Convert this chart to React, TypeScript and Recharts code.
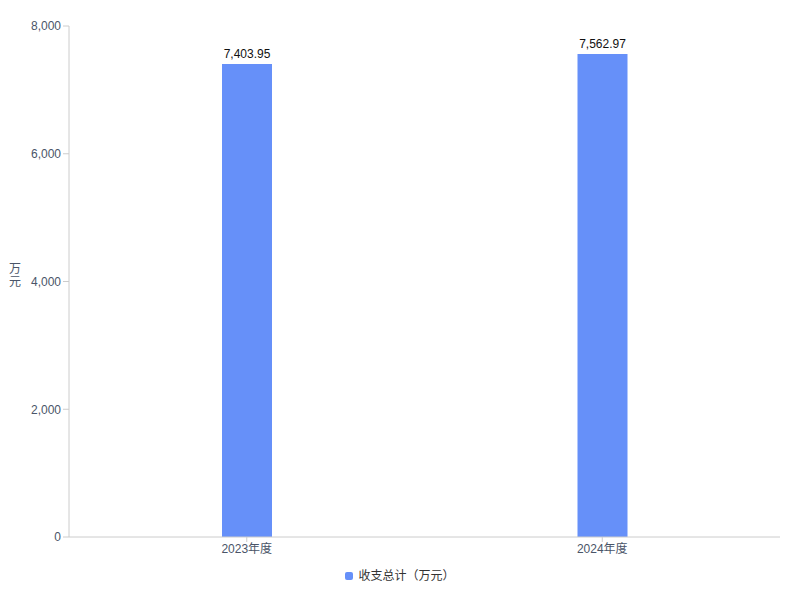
import React from 'react';
import { BarChart, Bar, XAxis, YAxis, LabelList } from 'recharts';

const categories = ['2023年度', '2024年度'];
const totals = [7403.95, 7562.97];
const yTicks = [0, 2000, 4000, 6000, 8000];
const seriesName = '收支总计（万元）';
const unitLabel = '万元';

const data = categories.map((c, i) => ({ name: c, total: totals[i] }));

const FONT = '"Liberation Sans", Arial, "Noto Sans CJK SC", sans-serif';
const BAR_COLOR = '#6690F9';

const fmtTick = (v: number) => v.toLocaleString('en-US');
const fmtLabel = (v: any) =>
  Number(v).toLocaleString('en-US', { minimumFractionDigits: 2, maximumFractionDigits: 2 });

const UnitLabel = (props: any) => {
  const vb = props.viewBox || {};
  const cy = vb.y + vb.height / 2;
  const chars = unitLabel.split('');
  return (
    <text x={15} y={cy} textAnchor="middle" fill="#4a5568" fontSize={12} fontFamily={FONT}>
      {chars.map((ch, i) => (
        <tspan key={i} x={15} dy={i === 0 ? -9 : 13}>{ch}</tspan>
      ))}
    </text>
  );
};

export default function App() {
  return (
    <div style={{ position: 'absolute', left: 0, top: 0, width: 800, height: 600, background: '#fff' }}>
      <BarChart width={800} height={600} data={data} margin={{ top: 26, right: 20, bottom: 33, left: 0 }}>
        <XAxis
          dataKey="name"
          height={30}
          stroke="#cccccc"
          tickLine={{ stroke: '#cccccc' }}
          tick={{ fill: '#4a5568', fontSize: 12, fontFamily: FONT }}
          tickSize={5}
        />
        <YAxis
          width={69}
          domain={[0, 8000]}
          ticks={yTicks}
          tickFormatter={fmtTick}
          stroke="#cccccc"
          tickLine={{ stroke: '#cccccc' }}
          tick={{ fill: '#4a5568', fontSize: 12, fontFamily: FONT }}
          tickSize={6}
          label={<UnitLabel />}
        />
        <Bar dataKey="total" name={seriesName} fill={BAR_COLOR} barSize={50} isAnimationActive={false}>
          <LabelList dataKey="total" position="top" formatter={fmtLabel} fill="#111" fontSize={12} fontFamily={FONT} offset={6} />
        </Bar>
      </BarChart>
      <div style={{ position: 'absolute', left: 0, top: 568, width: 800, display: 'flex', justifyContent: 'center', alignItems: 'center', fontFamily: FONT, fontSize: 12, color: '#333', lineHeight: '16px' }}>
        <span style={{ display: 'inline-block', width: 8, height: 8, borderRadius: 2, background: BAR_COLOR, marginRight: 5 }} />
        <span>{seriesName}</span>
      </div>
    </div>
  );
}
